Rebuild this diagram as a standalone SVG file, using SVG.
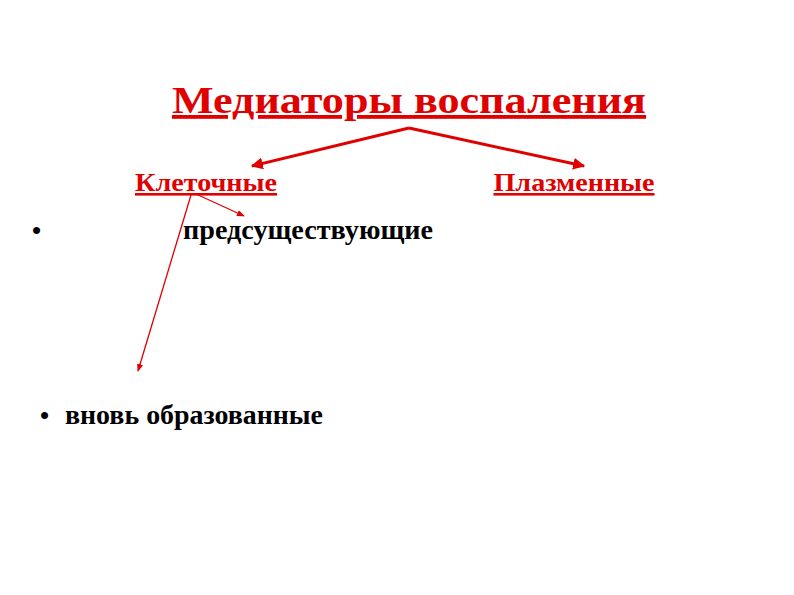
<svg xmlns="http://www.w3.org/2000/svg" width="794" height="595" viewBox="0 0 794 595">
<style>
.t{font-family:"Liberation Serif","Times New Roman",serif;font-weight:bold}
.red{fill:#e00000;text-decoration:underline}
.blk{fill:#000}
.c{stroke:#e00000;fill:none}
</style>
<defs>
<marker id="ah" viewBox="0 0 10 10" refX="9" refY="5" markerWidth="4" markerHeight="4" orient="auto"><path d="M0,0 L10,5 L0,10 z" fill="#e00000"/></marker>
<marker id="ah2" viewBox="0 0 10 10" refX="9" refY="5" markerWidth="6" markerHeight="6" orient="auto"><path d="M0,1 L10,5 L0,9 z" fill="#e00000"/></marker>
</defs>
<rect width="794" height="595" fill="#fff"/>
<g id="title"><text class="t red" x="409" y="113" font-size="38" text-anchor="middle" textLength="474" lengthAdjust="spacingAndGlyphs">Медиаторы воспаления</text></g>
<g id="cell"><text class="t red" x="206" y="191" font-size="26" text-anchor="middle" textLength="142" lengthAdjust="spacingAndGlyphs">Клеточные</text></g>
<g id="plasma"><text class="t red" x="574" y="191" font-size="26" text-anchor="middle" textLength="161" lengthAdjust="spacingAndGlyphs">Плазменные</text></g>
<g id="pre"><text class="t blk" x="32" y="239" font-size="26">•</text><text class="t blk" x="183" y="239" font-size="28" textLength="250" lengthAdjust="spacingAndGlyphs">предсуществующие</text></g>
<g id="new"><text class="t blk" x="40" y="424" font-size="26">•</text><text class="t blk" x="65" y="424" font-size="28" textLength="258" lengthAdjust="spacingAndGlyphs">вновь образованные</text></g>
<g id="connectors">
<path class="c" d="M409,128 L252,166" stroke-width="3" marker-end="url(#ah)"/>
<path class="c" d="M409,128 L584,166" stroke-width="3" marker-end="url(#ah)"/>
<path class="c" d="M196,194 L244,216" stroke-width="1.3" marker-end="url(#ah2)"/>
<path class="c" d="M191,195 L138,371" stroke-width="1.3" marker-end="url(#ah2)"/>
</g>
</svg>
